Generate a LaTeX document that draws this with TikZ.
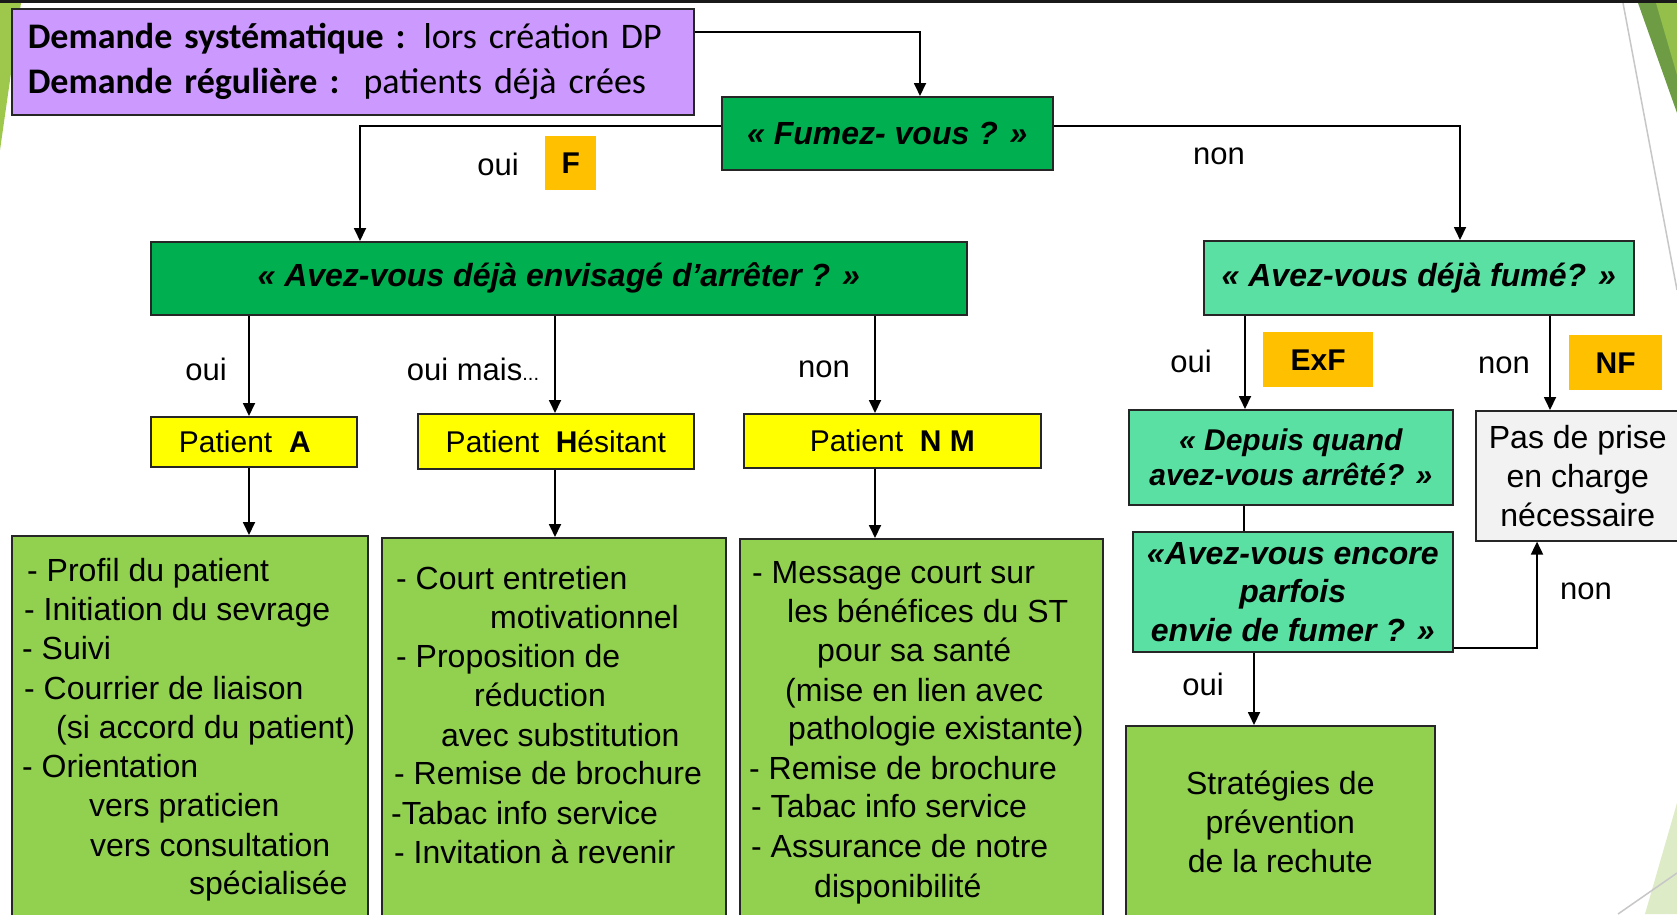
\documentclass[tikz,border=0pt]{standalone}
\usepackage{fontspec}
\setmainfont{Liberation Sans}
\newfontfamily\calfont{Carlito}
\usetikzlibrary{arrows.meta}
\definecolor{purp}{HTML}{CC99FF}
\definecolor{dgreen}{HTML}{00B050}
\definecolor{qteal}{HTML}{5BE0A3}
\definecolor{lgreen}{HTML}{92D050}
\definecolor{orng}{HTML}{FFC000}
\definecolor{yel}{HTML}{FFFF00}
\definecolor{lgrey}{HTML}{F2F2F2}
\definecolor{decogreen}{HTML}{9DC84B}
\definecolor{decodark}{HTML}{6E9C45}
\definecolor{decolight}{HTML}{DDEBC7}
\tikzset{
 box/.style={draw=black!85, line width=1.6pt, inner sep=0pt, anchor=north west, align=center},
 q/.style={box, font=\fontsize{32}{38.5}\selectfont\bfseries\itshape},
 pat/.style={box, fill=yel, font=\fontsize{30}{36}\selectfont},
 tag/.style={fill=orng, inner sep=0pt, anchor=north west, font=\fontsize{30}{36}\selectfont\bfseries},
 lbl/.style={font=\fontsize{31}{36}\selectfont, inner sep=0pt},
 ln/.style={anchor=base west, inner sep=0pt, font=\fontsize{32}{39}\selectfont},
 con/.style={line width=1.8pt},
 arr/.style={con, -{Triangle[length=13pt,width=12pt]}},
}
\begin{document}
\begin{tikzpicture}[x=1pt,y=-1pt]
\useasboundingbox (0,0) rectangle (1677,914);
\fill[white] (0,0) rectangle (1677,914);
% decoration
\fill[decogreen] (0,3) -- (21,3) -- (0,150) -- cycle;
\fill[decodark] (1638,3) -- (1677,3) -- (1677,113) -- cycle;
\fill[decogreen!80!decodark] (1656,3) -- (1677,3) -- (1677,75) -- cycle;
\draw[black!22, line width=1.5pt] (1623,3) -- (1677,290);
\fill[decolight] (1677,803) -- (1677,914) -- (1645,914) -- cycle;
\draw[black!22, line width=1.5pt] (1618,914) -- (1677,873);
\fill[black!90] (0,0) rectangle (1677,3);

% nodes
\node[box, fill=purp, minimum width=682pt, minimum height=106pt, text width=664pt, inner xsep=9pt, align=left,
      font=\calfont\fontsize{36}{45}\selectfont] (pur) at (11,8)
  {\hspace*{7pt}{\bfseries Demande systématique :} lors création DP\\\hspace*{7pt}{\bfseries Demande régulière :}\ \ patients déjà crées};
\node[q, fill=dgreen, minimum width=331pt, minimum height=73pt] (fum) at (721,96) {« Fumez- vous ? »};
\node[q, fill=dgreen, minimum width=816pt, minimum height=73pt] (env) at (150,241) {« Avez-vous déjà envisagé d’arrêter ? »};
\node[q, fill=qteal, minimum width=430pt, minimum height=74pt] (fum2) at (1203,240) {« Avez-vous déjà fumé? »};
\node[q, fill=qteal, minimum width=324pt, minimum height=95pt, font=\fontsize{30}{35}\selectfont\bfseries\itshape] (dep) at (1128,409) {« Depuis quand\\avez-vous arrêté? »};
\node[q, fill=qteal, minimum width=320pt, minimum height=120pt] (enc) at (1132,531) {«Avez-vous encore\\parfois\\envie de fumer ? »};
\node[box, fill=lgrey, minimum width=204pt, minimum height=130pt, font=\fontsize{32}{39}\selectfont] (pas) at (1475,410) {Pas de prise\\en charge\\nécessaire};
\node[box, fill=lgreen, minimum width=309pt, minimum height=192pt, font=\fontsize{32}{39}\selectfont] (strat) at (1125,725) {Stratégies de\\prévention\\de la rechute};

\node[pat, minimum width=206pt, minimum height=50pt] (pA) at (150,416) {Patient\ \ \textbf{A}\hspace{18pt}};
\node[pat, minimum width=276pt, minimum height=55pt] (pH) at (417,413) {Patient\ \ \textbf{H}ésitant};
\node[pat, minimum width=297pt, minimum height=54pt] (pN) at (743,413) {Patient\ \ \textbf{N M}};

\node[tag, minimum width=51pt, minimum height=54pt] (tF) at (545,136) {F};
\node[tag, minimum width=110pt, minimum height=55pt] (tExF) at (1263,332) {ExF\hspace{22pt}};
\node[tag, minimum width=93pt, minimum height=55pt] (tNF) at (1569,335) {NF\hspace{18pt}};

\node[box, fill=lgreen, minimum width=356pt, minimum height=400pt] (g1) at (11,535) {};
\node[box, fill=lgreen, minimum width=344pt, minimum height=400pt] (g2) at (381,537) {};
\node[box, fill=lgreen, minimum width=363pt, minimum height=400pt] (g3) at (739,538) {};

\foreach \t/\x/\y [count=\i] in {{- Profil du patient}/27/581, {- Initiation du sevrage}/24/620, {- Suivi}/22/659,
  {- Courrier de liaison}/24/699, {(si accord du patient)}/56/738, {- Orientation}/22/777,
  {vers praticien}/89/816, {vers consultation}/90/856, {spécialisée}/189/894}
  \node[ln] (a\i) at (\x,\y) {\t};
\foreach \t/\x/\y [count=\i] in {{- Court entretien}/396/589, {motivationnel}/490/628, {- Proposition de}/396/667,
  {réduction}/474/706, {avec substitution}/441/746, {- Remise de brochure}/394/784,
  {-Tabac info service}/391/824, {- Invitation à revenir}/394/863}
  \node[ln] (b\i) at (\x,\y) {\t};
\foreach \t/\x/\y [count=\i] in {{- Message court sur}/752/583, {les bénéfices du ST}/787/622, {pour sa santé}/817/661,
  {(mise en lien avec}/785/701, {pathologie existante)}/788/739, {- Remise de brochure}/749/779,
  {- Tabac info service}/751/817, {- Assurance de notre}/751/857, {disponibilité}/814/897}
  \node[ln] (c\i) at (\x,\y) {\t};

% labels
\node[lbl] (l1) at (498,164) {oui};
\node[lbl] (l2) at (1219,156) {non};
\node[lbl] (l3) at (206,369) {oui};
\node[lbl] (l4) at (473,369) {oui mais{\fontsize{20}{20}\selectfont...}};
\node[lbl] (l5) at (824,369) {non};
\node[lbl] (l6) at (1191,361) {oui};
\node[lbl] (l7) at (1504,365) {non};
\node[lbl] (l8) at (1586,591) {non};
\node[lbl] (l9) at (1203,684) {oui};

% connectors
\draw[arr] (pur.east |- 0,32) -| (fum.north -| 920,0);
\draw[arr] (fum.west |- 0,126) -| (env.north -| 360,0);
\draw[arr] (fum.east |- 0,126) -| (fum2.north -| 1460,0);
\draw[arr] (env.south -| 249,0) -- (pA.north -| 249,0);
\draw[arr] (env.south -| 555,0) -- (pH.north -| 555,0);
\draw[arr] (env.south -| 875,0) -- (pN.north -| 875,0);
\draw[arr] (pA.south -| 249,0) -- (g1.north -| 249,0);
\draw[arr] (pH.south -| 555,0) -- (g2.north -| 555,0);
\draw[arr] (pN.south -| 875,0) -- (g3.north -| 875,0);
\draw[arr] (fum2.south -| 1245,0) -- (dep.north -| 1245,0);
\draw[arr] (fum2.south -| 1550,0) -- (pas.north -| 1550,0);
\draw[con] (dep.south -| 1244,0) -- (enc.north -| 1244,0);
\draw[arr] (enc.east |- 0,648) -| (pas.south -| 1537,0);
\draw[arr] (enc.south -| 1254,0) -- (strat.north -| 1254,0);
\end{tikzpicture}
\end{document}
